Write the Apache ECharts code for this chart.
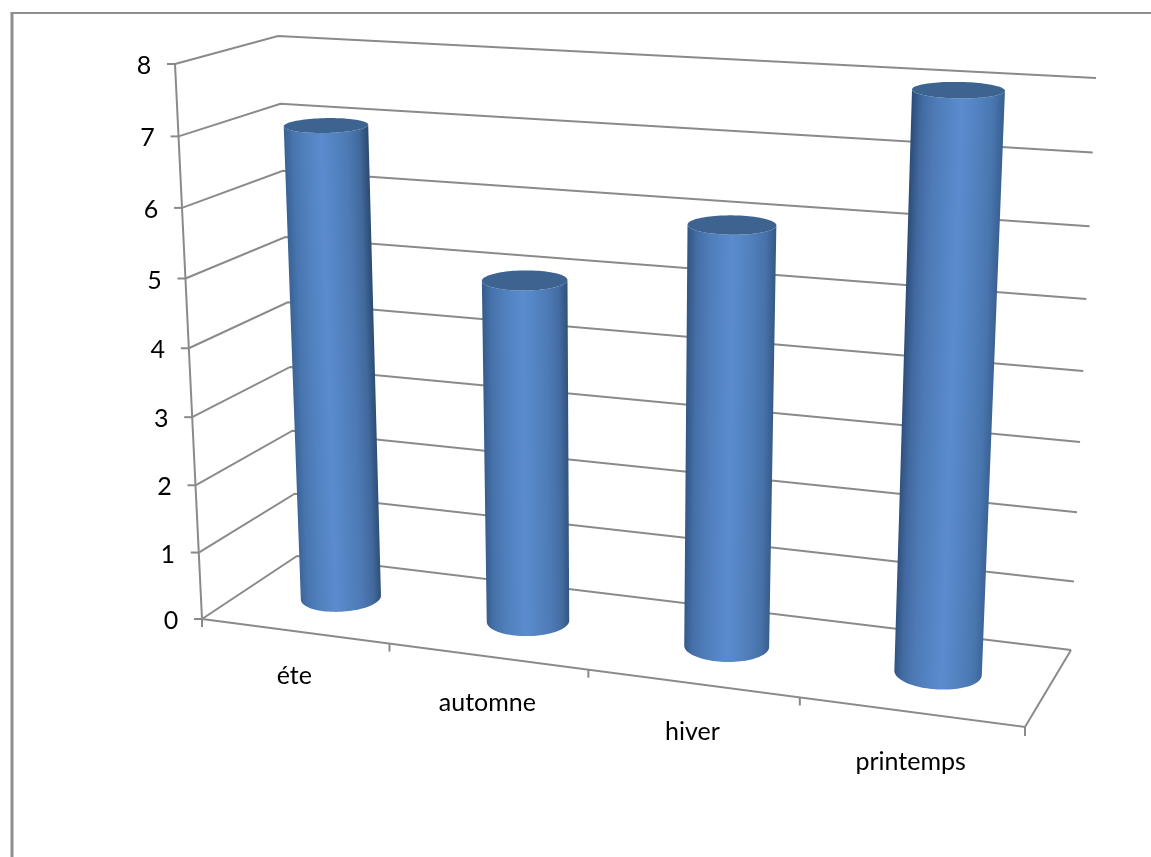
<!DOCTYPE html>
<html>
<head>
<meta charset="utf-8">
<style>html,body{margin:0;padding:0;background:#fff}#chart{width:1151px;height:857px}</style>
<script src="https://cdn.jsdelivr.net/npm/echarts@6/dist/echarts.min.js"></script>
</head>
<body>
<div id="chart"></div>
<script>
// Seasonal values shown as 3D cylinders standing on a perspective floor.
const categories = ['éte', 'automne', 'hiver', 'printemps'];
const seasonValues = [7, 5, 6, 8];
const valueTicks = [0, 1, 2, 3, 4, 5, 6, 7, 8];

// Corners of the 3D box on screen: [front|back][left|right][bottom|top].
const box = {
  flb: [202, 619], flt: [175, 64], frb: [1025, 727], frt: [1055, 117],
  blb: [297, 556], blt: [278, 36], brb: [1071, 650], brt: [1096, 78]
};
const PERSPECTIVE_U = 1.13, PERSPECTIVE_V = 1.05, WIDTH_PERSPECTIVE = 1.06;
const CYL_DEPTH = 0.52, CYL_RADIUS_U = 0.0525, CYL_RADIUS_Z = 0.22;
const LINE = '#8a8a8a', FONT = '25px Lato, Carlito, sans-serif';

const warp = (t, k) => t / (t + k * (1 - t));
const mix = (a, b, t) => [a[0] + (b[0] - a[0]) * t, a[1] + (b[1] - a[1]) * t];
const mixColor = (a, b, t) => a.map((x, i) => Math.round(x + (b[i] - x) * t));
const rgb = (c) => 'rgb(' + c.join(',') + ')';

// Trilinear placement inside the box, with projective spacing along width and height.
function project(u, v, z, ku) {
  const wu = warp(u, ku === undefined ? PERSPECTIVE_U : ku), wv = warp(v, PERSPECTIVE_V);
  const front = mix(mix(box.flb, box.frb, wu), mix(box.flt, box.frt, wu), wv);
  const back = mix(mix(box.blb, box.brb, wu), mix(box.blt, box.brt, wu), wv);
  return mix(front, back, z);
}

// Convert a data position to unit coordinates of the cartesian system.
function toUnit(params, api, c, val) {
  const p = api.coord([c, val]), cs = params.coordSys;
  return [(p[0] - cs.x) / cs.width, (cs.y + cs.height - p[1]) / cs.height];
}

function line(points, width) {
  return { type: 'polyline', shape: { points }, style: { fill: 'none', stroke: LINE, lineWidth: width || 2 } };
}

function renderWalls(params, api) {
  const tick = api.value(1);
  const v = toUnit(params, api, 0, tick)[1];
  const fl = project(0, v, 0), bl = project(0, v, 1), br = project(1, v, 1);
  const children = [
    line([fl, bl, br]),
    line([[fl[0] - 8, fl[1]], fl]),
    { type: 'text', style: { text: String(tick), x: fl[0] - 31, y: fl[1] + 2, font: FONT, fill: '#000', align: 'center', verticalAlign: 'middle' } }
  ];
  if (tick === valueTicks[0]) {
    const fr = project(1, 0, 0);
    const top = project(0, 1, 0);
    children.push(line([top, fl]), line([fl, fr, br]), line([fl, [fl[0], fl[1] + 8]]), line([fr, [fr[0], fr[1] + 9]]));
  }
  return { type: 'group', children };
}

function renderCategory(params, api) {
  const c = api.value(0);
  const u = toUnit(params, api, c, 0)[0];
  const band = 1 / categories.length;
  const edge = project(u + band / 2, 0, 0);
  const centre = project(u, 0, 0);
  const children = [{
    type: 'text',
    style: { text: categories[c], x: centre[0], y: centre[1] + 44 + 7 * u, font: FONT, fill: '#000', align: 'center', verticalAlign: 'middle' }
  }];
  if (c < categories.length - 1) children.push(line([edge, [edge[0], edge[1] + 8]]));
  return { type: 'group', children };
}

// Circle outline of a cylinder end, tilted slightly towards the sides of the chart.
function ringAt(u, v) {
  const centre = project(u, v, CYL_DEPTH);
  const a = project(u - CYL_RADIUS_U, v, CYL_DEPTH, WIDTH_PERSPECTIVE);
  const b = project(u + CYL_RADIUS_U, v, CYL_DEPTH, WIDTH_PERSPECTIVE);
  const rx = (b[0] - a[0]) / 2;
  const ry = (project(u, v, 0)[1] - project(u, v, 1)[1]) * CYL_RADIUS_Z;
  const tilt = (u - 0.5) * 0.13 * (1 - 0.7 * v);
  return (theta) => [
    centre[0] + rx * Math.cos(theta),
    centre[1] + rx * tilt * Math.cos(theta) + ry * Math.sin(theta)
  ];
}

// Side shading: the lit band drifts and each edge darkens according to the cylinder's place.
function sideGradient(base, top, u) {
  const left = mix(base(Math.PI), top(Math.PI), 0.5), right = mix(base(0), top(0), 0.5);
  const axis = [mix(top(0), top(Math.PI), 0.5)[0] - mix(base(0), base(Math.PI), 0.5)[0],
                mix(top(0), top(Math.PI), 0.5)[1] - mix(base(0), base(Math.PI), 0.5)[1]];
  const len = Math.hypot(axis[0], axis[1]);
  const normal = [-axis[1] / len, axis[0] / len];
  const span = (right[0] - left[0]) * normal[0] + (right[1] - left[1]) * normal[1];
  const peak = [90, 140, 206];
  const edgeL = mixColor([60, 102, 154], [44, 76, 120], u);
  const edgeR = mixColor([42, 72, 110], [60, 102, 152], u);
  const mid = 0.42 + 0.14 * u;
  return new echarts.graphic.LinearGradient(
    left[0], left[1], left[0] + normal[0] * span, left[1] + normal[1] * span,
    [
      { offset: 0, color: rgb(edgeL) },
      { offset: 0.1, color: rgb(mixColor(edgeL, peak, 0.45)) },
      { offset: 0.25, color: rgb(mixColor(edgeL, peak, 0.72)) },
      { offset: mid, color: rgb(peak) },
      { offset: 0.75, color: rgb(mixColor(edgeR, peak, 0.72)) },
      { offset: 0.9, color: rgb(mixColor(edgeR, peak, 0.45)) },
      { offset: 1, color: rgb(edgeR) }
    ],
    true
  );
}

function renderCylinder(params, api) {
  const c = api.value(0);
  const unit = toUnit(params, api, c, api.value(1));
  const base = ringAt(unit[0], 0), top = ringAt(unit[0], unit[1]);
  const side = [], cap = [];
  const steps = 48;
  for (let i = 0; i <= steps; i++) side.push(base(Math.PI * i / steps));
  for (let i = steps; i >= 0; i--) side.push(top(Math.PI * i / steps));
  for (let i = 0; i < steps * 2; i++) cap.push(top(Math.PI * i / steps));
  return {
    type: 'group',
    children: [
      { type: 'polygon', shape: { points: side }, style: { fill: sideGradient(base, top, unit[0]) } },
      { type: 'polygon', shape: { points: cap }, style: { fill: '#3d6491' } }
    ]
  };
}

const chart = echarts.init(document.getElementById('chart'), null, { renderer: 'canvas' });
chart.setOption({
  animation: false,
  backgroundColor: '#fff',
  grid: { left: 100, right: 100, top: 100, bottom: 100 },
  xAxis: { type: 'category', data: categories, show: false },
  yAxis: { type: 'value', min: valueTicks[0], max: valueTicks[valueTicks.length - 1], interval: 1, show: false },
  tooltip: { show: false },
  graphic: [
    { type: 'line', silent: true, shape: { x1: 12, y1: 13, x2: 12, y2: 857 }, style: { stroke: '#8e8e8e', lineWidth: 3 } },
    { type: 'line', silent: true, shape: { x1: 10.5, y1: 13, x2: 1151, y2: 13 }, style: { stroke: '#8e8e8e', lineWidth: 2 } }
  ],
  series: [
    { type: 'custom', silent: true, clip: false, renderItem: renderWalls, data: valueTicks.map((t) => [0, t]), z: 1 },
    { type: 'custom', silent: true, clip: false, renderItem: renderCategory, data: categories.map((_, i) => [i, 0]), z: 1 },
    { type: 'custom', silent: true, clip: false, renderItem: renderCylinder, data: seasonValues.map((v, i) => [i, v]), z: 2 }
  ]
});
</script>
</body>
</html>
